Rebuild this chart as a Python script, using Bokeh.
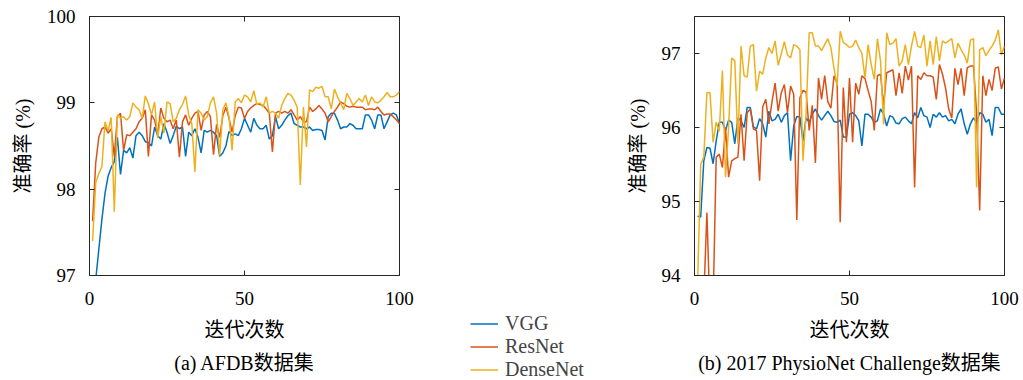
from bokeh.plotting import figure
from bokeh.models import Range1d, FixedTicker, LinearAxis, Legend, LegendItem, Title, ColumnDataSource, Spacer
from bokeh.layouts import row, column
from bokeh.embed import file_html
from bokeh.resources import INLINE

epochs = list(range(1, 101))
series_names = ["VGG", "ResNet", "DenseNet"]
series_colors = ["#0072BD", "#D95319", "#EDB120"]

afdb_vgg = [96.5, 96.95, 97.3, 97.65, 97.95, 98.15, 98.25, 98.32, 98.6, 98.17,
            98.45, 98.42, 98.48, 98.36, 98.62, 98.66, 98.62, 98.55, 98.54, 98.5,
            98.72, 98.62, 98.58, 98.76, 98.66, 98.53, 98.62, 98.73, 98.7, 98.72,
            98.38, 98.66, 98.62, 98.7, 98.6, 98.42, 98.68, 98.66, 98.68, 98.66,
            98.62, 98.38, 98.42, 98.5, 98.67, 98.62, 98.64, 98.62, 98.7, 98.82,
            98.74, 98.66, 98.82, 98.74, 98.7, 98.7, 98.74, 98.58, 98.62, 98.84,
            98.7, 98.74, 98.8, 98.85, 98.88, 98.76, 98.74, 98.72, 98.72, 98.7,
            98.72, 98.68, 98.69, 98.69, 98.68, 98.57, 98.84, 98.88, 98.88, 98.8,
            98.7, 98.72, 98.72, 98.76, 98.74, 98.7, 98.7, 98.7, 98.86, 98.86,
            98.8, 98.7, 98.86, 98.86, 98.7, 98.78, 98.86, 98.88, 98.86, 98.76]
afdb_resnet = [97.63, 98.3, 98.6, 98.7, 98.72, 98.65, 98.7, 98.38, 98.84, 98.88,
               98.45, 98.63, 98.62, 98.66, 98.7, 98.78, 98.82, 98.92, 98.38, 98.86,
               98.8, 98.63, 98.94, 98.82, 98.78, 98.8, 98.7, 98.8, 98.37, 98.78,
               98.86, 98.74, 98.82, 98.88, 98.9, 98.68, 98.86, 98.9, 98.84, 98.4,
               98.75, 98.6, 98.85, 98.95, 98.82, 98.66, 98.85, 98.95, 98.94, 98.82,
               98.9, 98.94, 98.97, 98.99, 98.98, 98.97, 98.93, 98.88, 98.43, 98.88,
               98.9, 98.88, 98.9, 98.88, 98.92, 98.86, 98.8, 98.84, 98.78, 98.78,
               98.95, 98.9, 98.93, 98.97, 98.93, 98.88, 98.78, 98.84, 98.9, 98.95,
               99.01, 98.99, 98.96, 98.95, 98.96, 98.95, 98.95, 98.95, 98.92, 98.93,
               98.93, 98.92, 98.95, 98.9, 98.86, 98.87, 98.87, 98.84, 98.8, 98.76]
afdb_densenet = [97.4, 98.07, 98.18, 98.26, 98.78, 98.68, 98.83, 97.74, 98.86, 98.82,
                 98.84, 98.8, 98.84, 99.0, 98.95, 98.92, 98.82, 99.08, 98.99, 98.86,
                 99.01, 98.59, 98.84, 98.65, 99.01, 98.99, 98.78, 98.82, 98.92, 98.98,
                 99.08, 98.86, 98.76, 98.2, 98.92, 98.88, 98.8, 98.84, 99.0, 99.07,
                 98.88, 98.39, 98.92, 99.0, 98.84, 98.45, 99.01, 99.05, 99.0, 99.09,
                 99.07, 99.01, 99.14, 98.98, 99.0, 98.95, 99.07, 98.88, 98.9, 98.88,
                 98.82, 98.97, 99.05, 99.11, 99.09, 99.03, 98.95, 98.05, 98.95, 98.49,
                 99.15, 99.13, 99.18, 99.17, 99.19, 99.07, 99.07, 98.93, 99.16, 99.07,
                 99.0, 98.92, 99.11, 99.05, 98.97, 99.01, 99.05, 99.01, 99.09, 98.97,
                 99.07, 99.01, 99.0, 99.03, 99.07, 99.12, 99.07, 99.07, 99.09, 99.13]

physio_vgg = [94.8, 94.79, 95.55, 95.73, 95.72, 95.51, 95.82, 96.07, 96.07, 95.96,
              96.1, 96.07, 95.78, 96.13, 96.09, 96.0, 96.27, 96.27, 96.01, 95.98,
              96.12, 96.05, 95.87, 96.22, 96.09, 96.11, 96.18, 96.07, 96.16, 96.2,
              95.55, 96.02, 96.15, 96.14, 95.82, 96.13, 96.07, 96.18, 96.25, 96.16,
              96.1, 96.16, 96.22, 96.16, 96.08, 96.07, 96.1, 95.87, 95.87, 96.18,
              96.2, 96.16, 96.09, 95.75, 96.18, 96.18, 96.14, 96.07, 96.09, 96.25,
              96.18, 96.02, 96.16, 96.14, 96.06, 96.05, 96.12, 96.14, 96.09, 96.05,
              96.2, 96.13, 96.27, 96.16, 96.14, 96.0, 96.18, 96.14, 96.2, 96.14,
              96.16, 96.09, 96.11, 96.05, 96.18, 96.25, 96.05, 95.91, 96.05, 96.13,
              96.07, 96.2, 96.18, 96.07, 96.11, 95.89, 96.27, 96.27, 96.18, 96.18]
physio_resnet = [93.0, 93.2, 93.7, 94.85, 93.5, 93.6, 95.6, 95.64, 95.46, 96.0,
                 95.33, 95.55, 95.58, 95.6, 96.18, 95.55, 96.2, 96.25, 95.98, 95.96,
                 95.28, 96.28, 96.38, 96.05, 96.35, 96.6, 96.22, 96.47, 96.58, 96.2,
                 96.56, 96.45, 94.75, 96.4, 96.5, 96.48, 95.96, 96.3, 95.52, 96.67,
                 96.38, 96.7, 96.35, 96.26, 96.7, 96.6, 94.72, 96.54, 95.8, 96.67,
                 95.8, 96.6, 96.45, 96.7, 96.66, 96.5, 96.35, 95.96, 96.7, 96.72,
                 96.3, 96.74, 96.76, 96.78, 96.43, 96.74, 96.46, 96.83, 96.64, 96.83,
                 95.19, 96.7, 96.65, 96.74, 96.7, 96.7, 96.68, 96.38, 96.85, 96.72,
                 96.53, 96.25, 96.13, 96.8, 96.58, 96.8, 96.43, 96.81, 96.83, 96.83,
                 96.2, 94.88, 96.7, 96.43, 96.65, 96.5, 96.8, 96.82, 96.52, 96.67]
physio_densenet = [93.9, 95.5, 95.6, 96.47, 96.47, 95.8, 96.07, 95.95, 96.77, 95.33,
                   96.0, 96.94, 96.9, 95.78, 97.1, 96.7, 96.68, 97.1, 97.12, 96.49,
                   96.76, 96.72, 96.94, 97.08, 97.0, 97.17, 96.84, 97.0, 97.16, 96.98,
                   96.94, 97.12, 97.1, 97.05, 95.55, 96.2, 97.28, 97.28, 97.1, 97.1,
                   97.04, 97.12, 97.2, 97.08, 96.8, 96.56, 97.3, 97.15, 97.12, 97.08,
                   97.1, 97.18, 97.08, 97.0, 96.67, 97.12, 96.85, 96.65, 97.2, 96.9,
                   96.04, 97.28, 97.12, 97.14, 97.2, 96.83, 96.9, 97.12, 96.85, 97.1,
                   97.3, 97.1, 97.08, 97.25, 96.83, 97.17, 96.85, 97.23, 96.9, 97.17,
                   97.14, 97.17, 97.2, 96.94, 97.14, 97.05, 96.98, 96.87, 97.18, 97.2,
                   95.19, 97.05, 97.08, 96.97, 97.04, 97.1, 97.18, 97.32, 96.98, 97.1]

x_ticks = [0, 50, 100]
afdb_yticks = [97, 98, 99, 100]
physio_yticks = [94, 95, 96, 97]
x_label = "迭代次数"
y_label = "准确率 (%)"
caption_a = "(a) AFDB数据集"
caption_b = "(b) 2017 PhysioNet Challenge数据集"

SERIF = "Liberation Serif, Noto Sans CJK SC"
AX = "#262626"
H = 380
TOP = 16
BOTTOM = H - TOP - 260


def make_fig(width, bl, br, y0, y1, yticks, caption, series):
    p = figure(width=width, height=H, output_backend="svg", toolbar_location=None,
               x_range=Range1d(0, 100), y_range=Range1d(y0, y1),
               min_border_left=bl, min_border_right=br, min_border_top=TOP,
               min_border_bottom=BOTTOM, x_axis_location=None, y_axis_location=None)
    p.grid.visible = False
    p.outline_line_color = AX
    p.outline_line_width = 1
    p.background_fill_color = "white"
    p.border_fill_color = "white"

    def axis(ticks, labels=True, label=None):
        a = LinearAxis(ticker=FixedTicker(ticks=ticks))
        a.major_tick_in = 5
        a.major_tick_out = 0
        a.minor_tick_line_color = None
        a.major_tick_line_color = AX
        a.axis_line_color = AX
        if labels:
            a.major_label_text_font = SERIF
            a.major_label_text_font_size = "19px"
            a.major_label_text_color = "black"
        else:
            a.major_label_text_font_size = "1px"
            a.major_label_text_color = None
            a.major_label_standoff = 0
            a.axis_line_color = None
        if label:
            a.axis_label = label
            a.axis_label_text_font = SERIF
            a.axis_label_text_font_size = "20px"
            a.axis_label_text_font_style = "normal"
            a.axis_label_text_color = "black"
        return a

    xb = axis(x_ticks, True, x_label)
    xb.major_label_standoff = 16
    xb.axis_label_standoff = 11
    p.add_layout(xb, "below")
    yl = axis(yticks, True, y_label)
    yl.major_label_standoff = 14
    yl.axis_label_standoff = 10
    p.add_layout(yl, "left")
    p.add_layout(axis(x_ticks, False), "above")
    p.add_layout(axis(yticks, False), "right")

    t = Title(text=caption, align="center", text_font=SERIF, text_font_size="20px",
              text_font_style="normal", text_color="black", standoff=13)
    p.add_layout(t, "below")

    for vals, color in zip(series, series_colors):
        src = ColumnDataSource(data=dict(x=epochs, y=vals))
        p.line("x", "y", source=src, line_color=color, line_width=1.5)
    return p


pa = make_fig(430, 89, 31, 97, 100, afdb_yticks, caption_a,
              [afdb_vgg, afdb_resnet, afdb_densenet])
pb = make_fig(413, 84, 19, 94, 97.5, physio_yticks, caption_b,
              [physio_vgg, physio_resnet, physio_densenet])

# legend block between the two charts (its proxy lines lie outside its visible range)
LEG_TOP = 312
pl = figure(width=180, height=H - LEG_TOP, output_backend="svg", toolbar_location=None,
            x_range=Range1d(0, 100), y_range=Range1d(200, 300),
            min_border_left=40, min_border_right=0, min_border_top=0,
            min_border_bottom=0, x_axis_location=None, y_axis_location=None)
pl.grid.visible = False
pl.outline_line_color = None
pl.border_fill_color = "white"
pl.background_fill_color = "white"
items = []
for name, color, vals in zip(series_names, series_colors, [afdb_vgg, afdb_resnet, afdb_densenet]):
    r = pl.line(x=epochs, y=vals, line_color=color, line_width=1.5)
    items.append(LegendItem(label=name, renderers=[r]))
legend = Legend(items=items, location="top_left", orientation="vertical",
                border_line_color=None, background_fill_alpha=0,
                label_text_font=SERIF, label_text_font_size="20px",
                glyph_width=28, glyph_height=21, label_height=21, label_standoff=7,
                spacing=0, padding=0, margin=0)
pl.add_layout(legend, "center")

mid = column(Spacer(width=180, height=LEG_TOP), pl)
layout = row(pa, mid, pb)
open("out.html", "w").write(file_html(layout, INLINE))
